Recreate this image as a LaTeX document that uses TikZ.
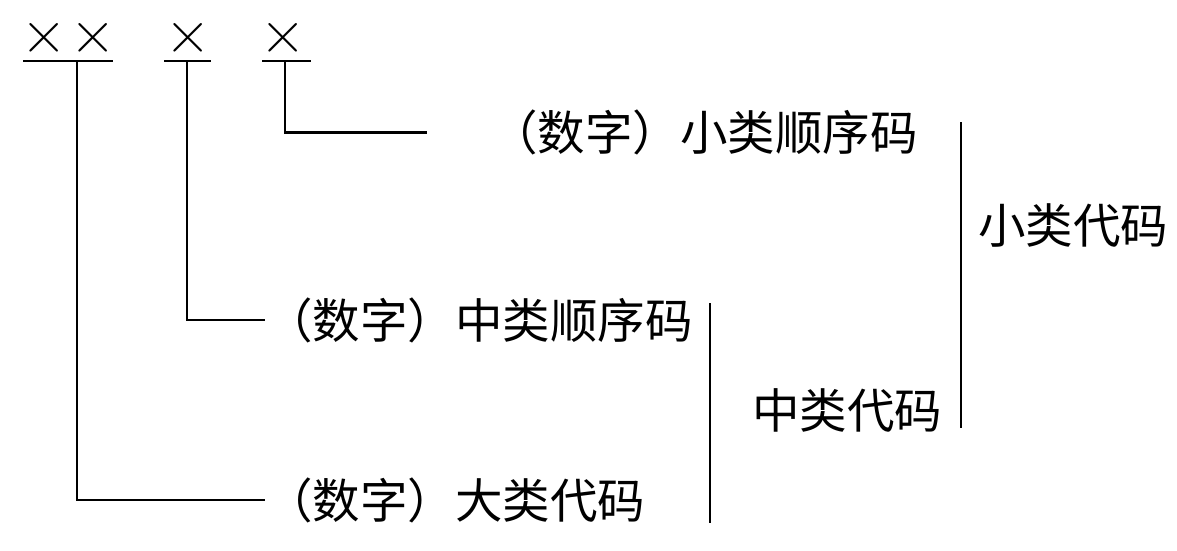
\documentclass[tikz,border=0pt]{standalone}
\usepackage{fontspec}
\newfontfamily\cjk{Noto Sans CJK SC}
\begin{document}
\begin{tikzpicture}[x=1pt,y=-1pt,
  lab/.style={font=\cjk\fontsize{47.5}{50}\selectfont, inner sep=0pt, anchor=west, text height=39.4pt, text depth=3.3pt},
  crs/.style={font=\fontsize{63}{63}\selectfont, inner sep=0pt, anchor=base},
  ln/.style={line width=2.6pt},
  bar/.style={line width=2.2pt}]
\useasboundingbox (0,0) rectangle (1177,551);
% crosses
\node[crs] (c1) at (44,54) {×};
\node[crs] (c2) at (93,54) {×};
\node[crs] (c3) at (188,54) {×};
\node[crs] (c4) at (283,54) {×};
% underlines
\draw[ln] (23,61) -- (113,61);
\draw[ln] (164,61) -- (211,61);
\draw[ln] (262,61) -- (311,61);
% labels
\node[lab] (t1) at (490,132.5) {（数字）小类顺序码};
\node[lab] (t2) at (265,320) {（数字）中类顺序码};
\node[lab] (t3) at (265,500) {（数字）大类代码};
\node[lab] (t4) at (752,410) {中类代码};
\node[lab] (t5) at (978,225) {小类代码};
% connectors
\coordinate (u1) at (77,61);
\coordinate (u2) at (187,61);
\coordinate (u3) at (285,61);
\draw[ln] (u1) |- (t3.west);
\draw[ln] (u2) |- (t2.west);
\draw[ln] (u3) |- ([xshift=-63pt]t1.west);
% bars
\draw[bar] (710,303) -- (710,523);
\draw[bar] (961,122) -- (961,428);
\end{tikzpicture}
\end{document}
